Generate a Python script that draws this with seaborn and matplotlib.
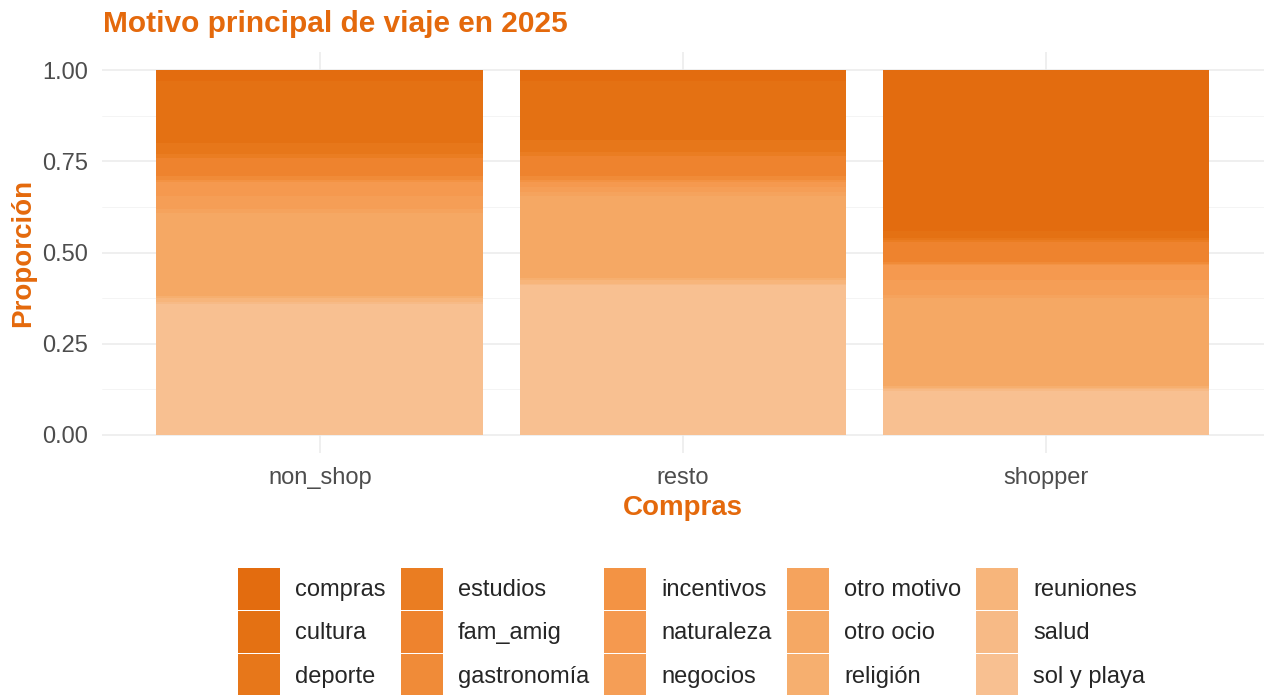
import pandas as pd
import matplotlib
matplotlib.use("Agg")
import matplotlib.pyplot as plt
import matplotlib.patches as mpatches
import seaborn as sns

# data (proportions per group, stacked top -> bottom)
grupos = ["non_shop", "resto", "shopper"]
motivos = ["compras", "cultura", "deporte", "estudios", "fam_amig", "gastronomía",
           "incentivos", "naturaleza", "negocios", "otro motivo", "otro ocio",
           "religión", "reuniones", "salud", "sol y playa"]
non_shop = [0.03, 0.17, 0.03, 0.01, 0.05, 0.01, 0.005, 0.04, 0.035, 0.01, 0.23,
            0.005, 0.01, 0.005, 0.36]
resto = [0.03, 0.16, 0.035, 0.01, 0.055, 0.01, 0.005, 0.015, 0.015, 0.01, 0.225,
         0.005, 0.01, 0.005, 0.41]
shopper = [0.44, 0.02, 0.005, 0.005, 0.055, 0.005, 0.005, 0.04, 0.04, 0.01, 0.24,
           0.005, 0.005, 0.005, 0.12]

colores = ["#E36C0F", "#E47113", "#E7771A", "#EA7D22", "#EE832E", "#F08B38",
           "#F39344", "#F5994F", "#F59E56", "#F5A35D", "#F5A864", "#F6AF6F",
           "#F7B57B", "#F7BA86", "#F8C091"]
naranja = "#E4690C"

df = pd.DataFrame({"Compras": [g for g in grupos for _ in motivos],
                   "motivo": motivos * 3,
                   "prop": non_shop + resto + shopper})

sns.set_theme(style="white")
plt.rcParams["font.family"] = ["Liberation Sans", "DejaVu Sans"]

fig = plt.figure(figsize=(12.67, 6.95), dpi=100)
ax = fig.add_axes([0.0805, 0.348, 0.917, 0.577])

# stacked bars: draw cumulative heights from the top category down
tabla = df.pivot(index="Compras", columns="motivo", values="prop")[motivos]
acum = tabla[motivos[::-1]].cumsum(axis=1)
for i, m in enumerate(motivos):
    sns.barplot(x=acum.index, y=acum[m], color=colores[i], width=0.9,
                linewidth=0, saturation=1, ax=ax, zorder=2)

ax.set_xlim(-0.6, 2.6)
ax.set_ylim(-0.05, 1.05)
ax.set_yticks([0, 0.25, 0.5, 0.75, 1.0])
ax.set_yticklabels(["0.00", "0.25", "0.50", "0.75", "1.00"])
ax.set_yticks([0.125, 0.375, 0.625, 0.875], minor=True)
ax.grid(True, which="major", color="#EBEBEB", linewidth=1.1, zorder=0)
ax.grid(True, which="minor", axis="y", color="#F3F3F3", linewidth=0.6, zorder=0)
ax.set_axisbelow(True)
for s in ax.spines.values():
    s.set_visible(False)
ax.tick_params(axis="both", length=0, labelsize=17, colors="#4D4D4D")
ax.tick_params(axis="y", pad=10)
ax.tick_params(axis="x", pad=10)

ax.set_xlabel("Compras", fontsize=20, fontweight="bold", color=naranja, labelpad=4)
ax.set_ylabel("Proporción", fontsize=20, fontweight="bold", color=naranja, labelpad=4)
fig.text(0.081, 0.966, "Motivo principal de viaje en 2025", fontsize=21.5,
         fontweight="bold", color=naranja, va="center", ha="left")

handles = [mpatches.Patch(facecolor=c, edgecolor="none", label=m)
           for m, c in zip(motivos, colores)]
fig.legend(handles=handles, ncol=5, loc="upper left",
           bbox_to_anchor=(0.1878, 0.1827), frameon=False, fontsize=17,
           handlelength=1.78, handleheight=2.36, handletextpad=0.64,
           labelspacing=0.05, columnspacing=0.64, borderpad=0, borderaxespad=0)

fig.savefig("out.png", dpi=100)
